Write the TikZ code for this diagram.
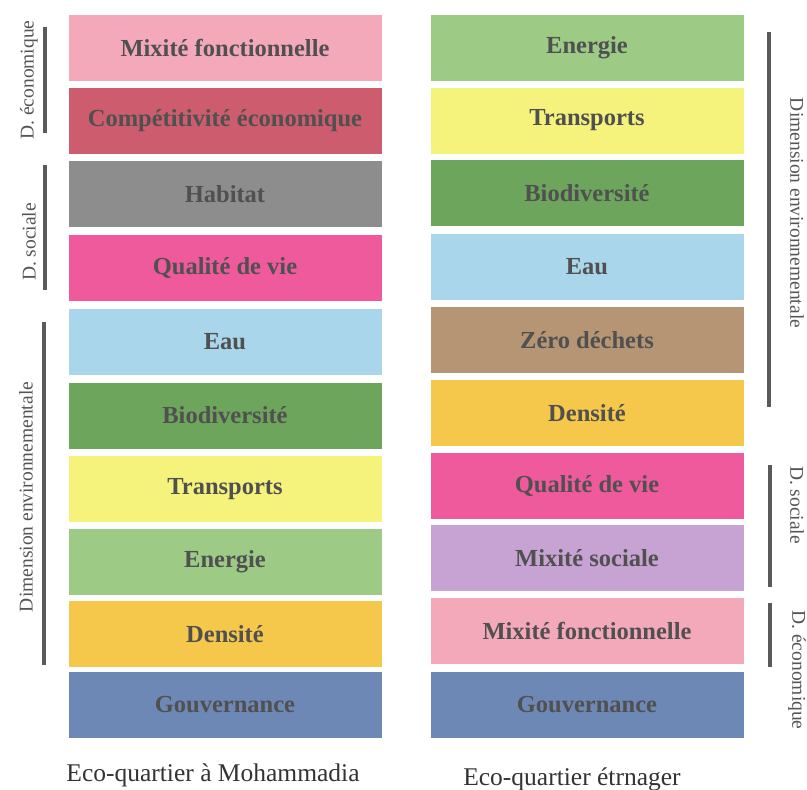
\documentclass[tikz,border=0pt]{standalone}
\usepackage{fontspec}
\setmainfont{Liberation Serif}
\definecolor{cmixfonc}{HTML}{F4A9BA}
\definecolor{ccompet}{HTML}{CD5C6E}
\definecolor{chabitat}{HTML}{8D8D8D}
\definecolor{cqualite}{HTML}{EE5A9C}
\definecolor{ceau}{HTML}{A9D6EB}
\definecolor{cbiodiv}{HTML}{6EA55C}
\definecolor{ctransp}{HTML}{F5F37C}
\definecolor{cenergie}{HTML}{9DCB86}
\definecolor{cdensite}{HTML}{F5C74A}
\definecolor{cgouv}{HTML}{6E88B5}
\definecolor{czero}{HTML}{B59574}
\definecolor{cmixsoc}{HTML}{C6A3D3}
\definecolor{ctext}{HTML}{505050}
\definecolor{cbar}{HTML}{5A5A5A}
\definecolor{cside}{HTML}{555555}
\tikzset{
  cbox/.style={rectangle, draw=none, fill=#1, minimum width=313pt, minimum height=66pt,
    inner sep=0pt, text=ctext, font=\fontsize{24.5}{27}\selectfont\bfseries},
  sidebar/.style={draw=cbar, line width=4pt},
  sidelabel/.style={text=cside, font=\fontsize{19.5}{22}\selectfont, inner sep=0pt},
  caption/.style={text=black!80, font=\fontsize{25.5}{28}\selectfont, inner sep=0pt}
}
\begin{document}
\begin{tikzpicture}[x=1pt,y=-1pt]
\useasboundingbox (0,0) rectangle (807,790);
% left column
\node[cbox=cmixfonc] (L1) at (225,47.5) {Mixité fonctionnelle};
\node[cbox=ccompet] (L2) at (225,120.6) {Compétitivité économique};
\node[cbox=chabitat] (L3) at (225,193.7) {Habitat};
\node[cbox=cqualite] (L4) at (225,267.8) {Qualité de vie};
\node[cbox=ceau] (L5) at (225,342) {Eau};
\node[cbox=cbiodiv] (L6) at (225,415.5) {Biodiversité};
\node[cbox=ctransp] (L7) at (225,489) {Transports};
\node[cbox=cenergie] (L8) at (225,561.5) {Energie};
\node[cbox=cdensite] (L9) at (225,634) {Densité};
\node[cbox=cgouv] (L10) at (225,704.5) {Gouvernance};
% right column
\node[cbox=cenergie] (R1) at (587,48) {Energie};
\node[cbox=ctransp] (R2) at (587,120.5) {Transports};
\node[cbox=cbiodiv] (R3) at (587,193) {Biodiversité};
\node[cbox=ceau] (R4) at (587,266.5) {Eau};
\node[cbox=czero] (R5) at (587,340) {Zéro déchets};
\node[cbox=cdensite] (R6) at (587,413) {Densité};
\node[cbox=cqualite] (R7) at (587,485.5) {Qualité de vie};
\node[cbox=cmixsoc] (R8) at (587,558) {Mixité sociale};
\node[cbox=cmixfonc] (R9) at (587,631) {Mixité fonctionnelle};
\node[cbox=cgouv] (R10) at (587,704.5) {Gouvernance};
% left side bars and labels
\draw[sidebar] (45,27) -- (45,133);
\node[sidelabel, rotate=90] (ldeco) at (29,80) {D. économique};
\draw[sidebar] (45,165) -- (45,290);
\node[sidelabel, rotate=90] (ldsoc) at (29,242) {D. sociale};
\draw[sidebar] (44,322) -- (44,665);
\node[sidelabel, rotate=90] (ldenv) at (26,497) {Dimension environnementale};
% right side bars and labels
\draw[sidebar] (769,32) -- (769,407);
\node[sidelabel, rotate=-90] (rdenv) at (797,213) {Dimension environnementale};
\draw[sidebar] (770,465) -- (770,587);
\node[sidelabel, rotate=-90] (rdsoc) at (797,505) {D. sociale};
\draw[sidebar] (770,603) -- (770,667);
\node[sidelabel, rotate=-90] (rdeco) at (797,670) {D. économique};
% captions
\node[caption, anchor=base] (capL) at (213,781) {Eco-quartier à Mohammadia};
\node[caption, anchor=base] (capR) at (572,785) {Eco-quartier étrnager};
\end{tikzpicture}
\end{document}
